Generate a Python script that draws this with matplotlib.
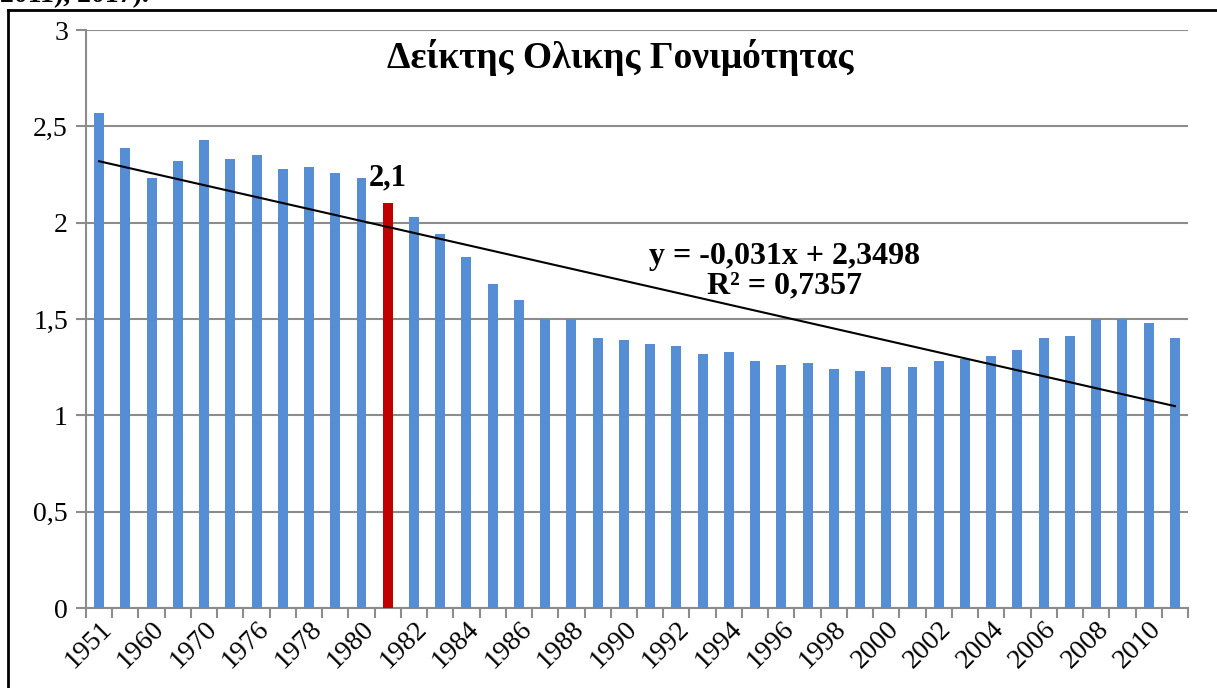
import numpy as np
import matplotlib.pyplot as plt
from matplotlib.lines import Line2D

years = ['1951', '1955', '1960', '1965', '1970', '1975'] + [str(y) for y in range(1976, 2012)]
tfr = [2.57, 2.39, 2.23, 2.32, 2.43, 2.33, 2.35, 2.28, 2.29, 2.26, 2.23, 2.10,
       2.03, 1.94, 1.82, 1.68, 1.60, 1.50, 1.50, 1.40, 1.39, 1.37, 1.36, 1.32,
       1.33, 1.28, 1.26, 1.27, 1.24, 1.23, 1.25, 1.25, 1.28, 1.29, 1.31, 1.34,
       1.40, 1.41, 1.50, 1.50, 1.48, 1.40]
highlight = '1981'
slope = -0.031
intercept = 2.3498
r2 = 0.7357

plt.rcParams['font.family'] = ['Liberation Serif', 'DejaVu Serif']

fig = plt.figure(figsize=(12.17, 6.88), dpi=100)
ax = fig.add_axes([86 / 1217, 1 - 608 / 688, (1188 - 86) / 1217, (608 - 30) / 688])

x = np.arange(len(years))
colors = ['#C00000' if y == highlight else '#558ED5' for y in years]
ax.bar(x, tfr, width=0.38, color=colors, zorder=3)

# linear trend, excel style (x = 1..n)
xt = np.arange(1, len(years) + 1)
ax.plot(x, slope * xt + intercept, color='black', lw=1.5, zorder=4)

ax.set_xlim(-0.5, len(years) - 0.5)
ax.set_ylim(0, 3)
ax.set_yticks(np.arange(0, 3.01, 0.5))
ax.set_yticklabels(['0', '0,5', '1', '1,5', '2', '2,5', '3'], fontsize=20)
ax.yaxis.grid(True, color='#8c8c8c', lw=1.5, zorder=0)

# category boundary ticks, labels every other bar
ax.set_xticks(np.arange(-0.5, len(years), 1))
ax.set_xticklabels([])
ax.set_xticks(x[::2], minor=True)
ax.set_xticklabels(years[::2], minor=True, rotation=45, ha='right',
                   rotation_mode='anchor', fontsize=20)
ax.tick_params(axis='x', which='minor', length=0, pad=6)
ax.tick_params(axis='x', which='major', length=7, width=1.5, color='#8c8c8c')
ax.tick_params(axis='y', length=7, width=1.5, color='#8c8c8c', pad=6)

for s in ['top', 'right']:
    ax.spines[s].set_visible(False)
for s in ['left', 'bottom']:
    ax.spines[s].set_color('#8c8c8c')
    ax.spines[s].set_linewidth(1.5)

ax.text(0.485, 0.953, 'Δείκτης Ολικης Γονιμότητας', transform=ax.transAxes,
        ha='center', va='center', fontsize=27, fontweight='bold')

i = years.index(highlight)
ax.annotate('2,1', (x[i], tfr[i]), xytext=(0, 8), textcoords='offset points',
            ha='center', va='bottom', fontsize=22, fontweight='bold')

eq = 'y = -0,031x + 2,3498\nR² = 0,7357'
ax.text(0.634, 0.583, eq, transform=ax.transAxes, ha='center', va='center',
        fontsize=23, fontweight='bold', linespacing=1.0)

# page frame and clipped line of text above
fig.add_artist(Line2D([8 / 1217, 8 / 1217], [0, 1 - 10 / 688], color='black', lw=2))
fig.add_artist(Line2D([8 / 1217, 1], [1 - 10 / 688, 1 - 10 / 688], color='black', lw=2))
fig.text(0.0, 1 + 4 / 688, '2011), 2017).', ha='left', va='center',
         fontsize=20, fontweight='bold')

fig.savefig('out.png', dpi=100)
